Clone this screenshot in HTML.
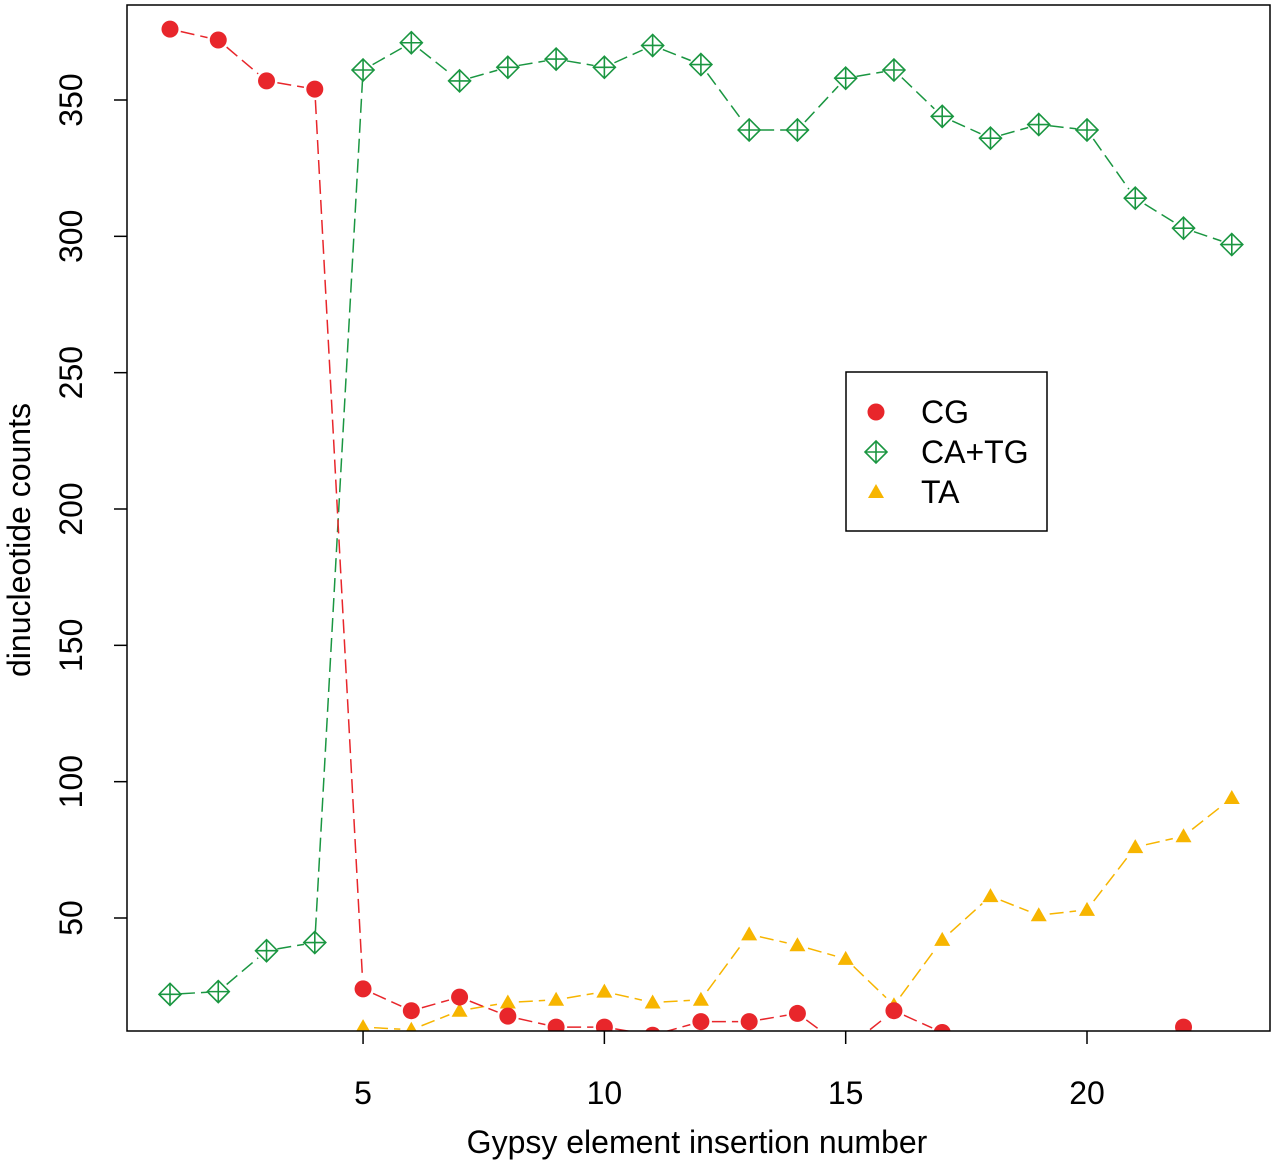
<!DOCTYPE html>
<html><head><meta charset="utf-8"><style>
html,body{margin:0;padding:0;background:#fff;}
svg{display:block;font-family:"Liberation Sans",Arial,sans-serif;}
</style></head><body>
<svg id="chart" width="1280" height="1166" viewBox="0 0 1280 1166">
<defs><clipPath id="plotclip"><rect x="127" y="5" width="1143" height="1026"/></clipPath></defs>
<g id="axes"></g>
<g id="marks" clip-path="url(#plotclip)"></g>
<rect x="127" y="5" width="1143" height="1026" fill="none" stroke="#000" stroke-width="1.5"/>
<text x="697" y="1153" font-size="32" text-anchor="middle" fill="#000">Gypsy element insertion number</text>
<text transform="translate(30,540) rotate(-90)" font-size="32" text-anchor="middle" fill="#000">dinucleotide counts</text>
<g>
<rect x="846" y="372" width="201" height="159" fill="#fff" stroke="#000" stroke-width="1.5"/>
<g id="legend-items"></g>
</g>
</svg>
<script>
const xValues = [1,2,3,4,5,6,7,8,9,10,11,12,13,14,15,16,17,18,19,20,21,22,23];
const cgValues = [376,372,357,354,24,16,21,14,10,10,7,12,12,15,2,16,8,2,2,2,2,10,2];
const catgValues = [22,23,38,41,361,371,357,362,365,362,370,363,339,339,358,361,344,336,341,339,314,303,297];
const taValues = [2,2,2,2,10,9,16,19,20,23,19,20,44,40,35,18,42,58,51,53,76,80,94];
const xTicks = [5,10,15,20];
const yTicks = [50,100,150,200,250,300,350];
const seriesNames = ["CG","CA+TG","TA"];

const NS = "http://www.w3.org/2000/svg";
function xs(v){return 170 + (v-1)*(1087-170)/19;}
function ys(v){return 918 - (v-50)*(918-100)/300;}
function mk(tag, attrs, parent){const e=document.createElementNS(NS,tag);for(const k in attrs)e.setAttribute(k,attrs[k]);parent.appendChild(e);return e;}
const axes=document.getElementById('axes');
const marks=document.getElementById('marks');

xTicks.forEach(t=>{
  const l=mk('line',{x1:xs(t),x2:xs(t),y1:1031,y2:1044,stroke:'#000','stroke-width':1.5},axes);
  
  
  const tx=mk('text',{x:xs(t),y:1104,'font-size':32,'text-anchor':'middle'},axes);
  tx.textContent=t;
  
  
});
yTicks.forEach(t=>{
  const l=mk('line',{x1:114,x2:127,y1:ys(t),y2:ys(t),stroke:'#000','stroke-width':1.5},axes);
  
  
  const tx=mk('text',{transform:`translate(82,${ys(t)}) rotate(-90)`,'font-size':32,'text-anchor':'middle'},axes);
  tx.textContent=t;
  
  
});

function drawLines(vals,color,name){
  for(let i=0;i<vals.length-1;i++){
    const x1=xs(xValues[i]),y1=ys(vals[i]),x2=xs(xValues[i+1]),y2=ys(vals[i+1]);
    const d=Math.hypot(x2-x1,y2-y1); if(d<24) continue;
    const ux=(x2-x1)/d,uy=(y2-y1)/d,g=11;
    const l=mk('line',{x1:x1+ux*g,y1:y1+uy*g,x2:x2-ux*g,y2:y2-uy*g,stroke:color,'stroke-width':1.5,'stroke-dasharray':'14,6'},marks);
    
    
  }
}
function circle(x,y,p,name){const c=mk('circle',{cx:x,cy:y,r:8.5,fill:'#e8262b'},p);}
function diamond(x,y,p,name){const g=mk('g',{},p);
  mk('polygon',{points:`${x},${y-11} ${x+11},${y} ${x},${y+11} ${x-11},${y}`,fill:'none',stroke:'#1a9641','stroke-width':1.6},g);
  mk('line',{x1:x-11,x2:x+11,y1:y,y2:y,stroke:'#1a9641','stroke-width':1.6},g);
  mk('line',{x1:x,x2:x,y1:y-11,y2:y+11,stroke:'#1a9641','stroke-width':1.6},g);}
function tri(x,y,p,name){const t=mk('polygon',{points:`${x},${y-8} ${x+8},${y+6} ${x-8},${y+6}`,fill:'#f7b500'},p);}

drawLines(catgValues,'#1a9641','catg');
drawLines(taValues,'#f7b500','ta');
drawLines(cgValues,'#e8262b','cg');
catgValues.forEach((v,i)=>diamond(xs(xValues[i]),ys(v),marks,'catg-point'));
taValues.forEach((v,i)=>tri(xs(xValues[i]),ys(v),marks,'ta-point'));
cgValues.forEach((v,i)=>circle(xs(xValues[i]),ys(v),marks,'cg-point'));

const li=document.getElementById('legend-items');
const fns=[circle,diamond,tri];
seriesNames.forEach((n,i)=>{
  const y=412+i*40;
  fns[i](876,y,li,'legend-symbol');
  const t=mk('text',{x:921,y:y+11,'font-size':32},li);
  t.textContent=n;
  
  
});
</script>
</body></html>
